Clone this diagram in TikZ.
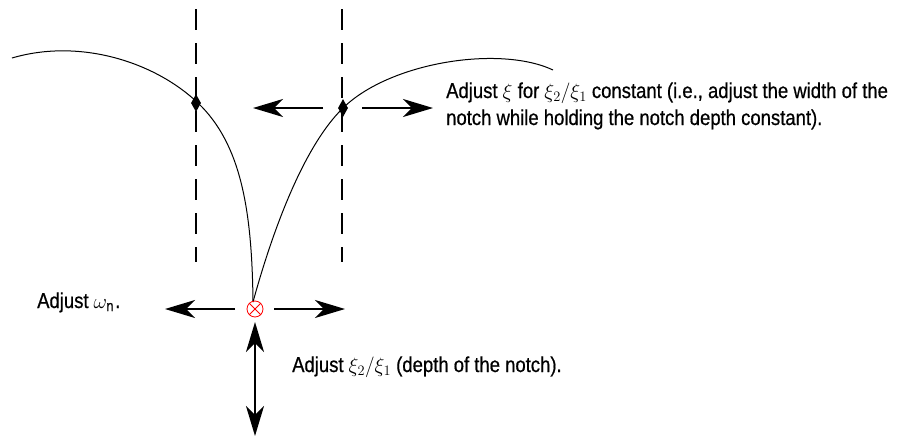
\documentclass[tikz,border=0pt]{standalone}
\usepackage{fontspec}
\setmainfont{Liberation Sans}[FakeStretch=0.86, FakeBold=0.6]
\usetikzlibrary{arrows.meta,shapes.geometric}

\tikzset{
  lbl/.style={font=\fontsize{21.5}{27}\selectfont, inner sep=0pt},
  knob/.style={diamond, fill, inner sep=0pt, minimum width=10pt, minimum height=18pt},
  guide/.style={line width=2pt, dash pattern=on 21pt off 13pt},
  drag/.style={line width=2pt},
}

\begin{document}
\begin{tikzpicture}[x=1pt, y=-1pt, line join=round, >={Stealth[length=30pt,width=18pt,inset=9pt]}]
  \useasboundingbox (0,0) rectangle (903,437);
  % vertical guides through the two width points
  \draw[guide] (196,9) -- (196,262);
  \draw[guide] (342,9) -- (342,262);
  % notch magnitude curve
  \draw[line width=1pt] (12,58) .. controls (80,38) and (155,62) .. (198,103)
    .. controls (241,144) and (252,210) .. (253,302);
  \draw[line width=1pt] (253,302) .. controls (270,240) and (301,149) .. (343,108)
    .. controls (390,62) and (500,45) .. (553,70);
  % markers
  \node[knob] (wl) at (196,103) {};
  \node[knob] (wr) at (343,108) {};
  \node[circle, draw=red, thick, inner sep=0pt, minimum size=16pt] (zero) at (255,309) {};
  \draw[red, thick] (zero.45) -- (zero.225) (zero.135) -- (zero.315);
  % arrow ends
  \coordinate (wa) at (323,108);
  \coordinate (wb) at (253,108);
  \coordinate (wc) at (362,108);
  \coordinate (wd) at (433,108);
  \coordinate (za) at (235,309);
  \coordinate (zb) at (165,309);
  \coordinate (zc) at (274,309);
  \coordinate (zd) at (345,309);
  \coordinate (zu) at (255,322);
  \coordinate (zl) at (255,436);
  \draw[drag,->] (wa) -- (wb);
  \draw[drag,->] (wc) -- (wd);
  \draw[drag,->] (za) -- (zb);
  \draw[drag,->] (zc) -- (zd);
  \draw[drag,<->] (zu) -- (zl);
  % labels
  \node[lbl, anchor=base west, align=left] (twidth) at (446,125) {Adjust $\xi$ for $\xi_2/\xi_1$ constant (i.e., adjust the width of the\\notch while holding the notch depth constant).};
  \node[lbl, anchor=base west] (tfreq) at (37,308) {Adjust $\omega_{\rm n}$.};
  \node[lbl, anchor=base west] (tdepth) at (292,372) {Adjust $\xi_2/\xi_1$ (depth of the notch).};
\end{tikzpicture}
\end{document}
